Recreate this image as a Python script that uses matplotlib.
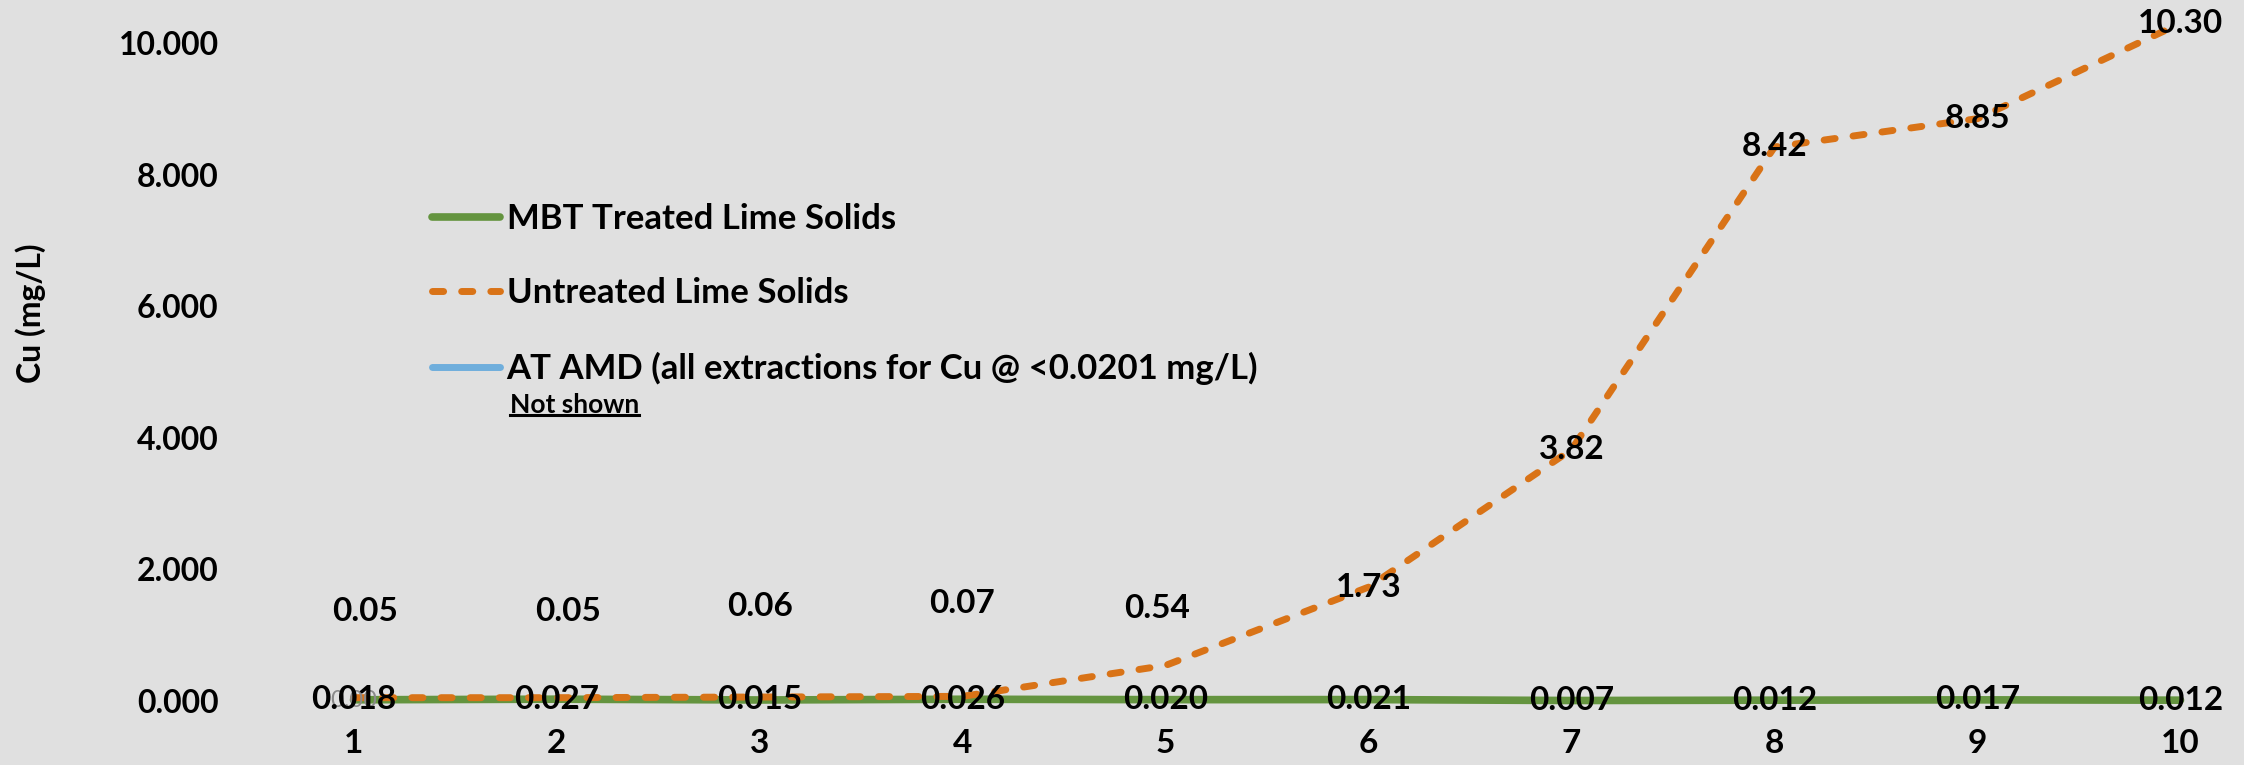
import matplotlib
matplotlib.use('Agg')
import matplotlib.pyplot as plt
from matplotlib.lines import Line2D

# Datos
extraction = [1, 2, 3, 4, 5, 6, 7, 8, 9, 10]
mbt_treated = [0.018, 0.027, 0.015, 0.026, 0.020, 0.021, 0.007, 0.012, 0.017, 0.012]
untreated = [0.05, 0.05, 0.06, 0.07, 0.54, 1.73, 3.82, 8.42, 8.85, 10.30]
y_ticks = [0, 2, 4, 6, 8, 10]
series_names = ['MBT Treated Lime Solids', 'Untreated Lime Solids',
                'AT AMD (all extractions for Cu @ <0.0201 mg/L)']

# Desplazamiento (pt) de las etiquetas de la serie sin tratar
label_offsets = [(8.6, 62), (8.6, 62), (0.7, 65), (0, 67), (-5.8, 41),
                 (0, 0), (0, 0), (0, 0), (0, 0), (0, 0)]

BG = '#e0e0e0'
GREEN = '#64943f'
ORANGE = '#d97317'
BLUE = '#6faedc'

plt.rcParams['font.family'] = ['Lato', 'DejaVu Sans']
plt.rcParams['font.weight'] = 'bold'

fig = plt.figure(figsize=(22.44, 7.65), dpi=100, facecolor=BG)
ax = fig.add_axes([252 / 2244, 0.0579, 1 - 252 / 2244, 0.9289], facecolor=BG)

l_green, = ax.plot(extraction, mbt_treated, color=GREEN, lw=5.5,
                   solid_capstyle='round', zorder=2)
l_orange, = ax.plot(extraction, untreated, color=ORANGE, lw=5,
                    dashes=(1.6, 2.6), dash_capstyle='round', zorder=2.5)

# Etiquetas de datos
for x, v in zip(extraction, mbt_treated):
    ax.annotate(f'{v:.3f}', (x, v), ha='center', va='center', fontsize=24, zorder=4)
for x, v, off in zip(extraction, untreated, label_offsets):
    ax.annotate(f'{v:.2f}', (x, v), xytext=off, textcoords='offset points',
                ha='center', va='center', fontsize=24, zorder=4)
# etiqueta gris de la serie AT AMD (solo se ve en el punto 1)
ax.annotate('0.00', (extraction[0], 0), ha='center', va='center',
            fontsize=17, color='#8a8a8a', fontweight='normal', zorder=3.5)

ax.set_xlim(0.5, 0.5 + (2244 - 252) / 203)
ax.set_ylim(-0.3, 10.5)
ax.set_xticks(extraction)
ax.set_xticklabels([str(x) for x in extraction])
ax.set_yticks(y_ticks)
ax.set_yticklabels([f'{t:.3f}' for t in y_ticks])
ax.tick_params(axis='both', length=0, labelsize=23)
ax.tick_params(axis='x', labelsize=24)
ax.tick_params(axis='y', pad=24)
ax.tick_params(axis='x', pad=6)
for s in ax.spines.values():
    s.set_visible(False)

fig.text(31 / 2244, 1 - 313 / 765, 'Cu (mg/L)', rotation=90, fontsize=23,
         ha='center', va='center')

# Leyenda
h_blue = Line2D([], [], color=BLUE, lw=5, solid_capstyle='round')
ax.legend([l_green, l_orange, h_blue], series_names, loc='upper left',
          bbox_to_anchor=(432 / 2244, 1 - 203 / 765), bbox_transform=fig.transFigure,
          frameon=False, fontsize=25, handlelength=1.95, handletextpad=0.2,
          labelspacing=1.22, borderpad=0, borderaxespad=0)

ns = fig.text(510 / 2244, 1 - 405 / 765, 'Not shown', fontsize=19,
              ha='left', va='center')
fig.canvas.draw()
bb = ns.get_window_extent()
fig.add_artist(Line2D([bb.x0, bb.x1], [bb.y0 + 2, bb.y0 + 2], color='black',
                      lw=2.2, transform=None))

fig.savefig('out.png', dpi=100, facecolor=BG)
